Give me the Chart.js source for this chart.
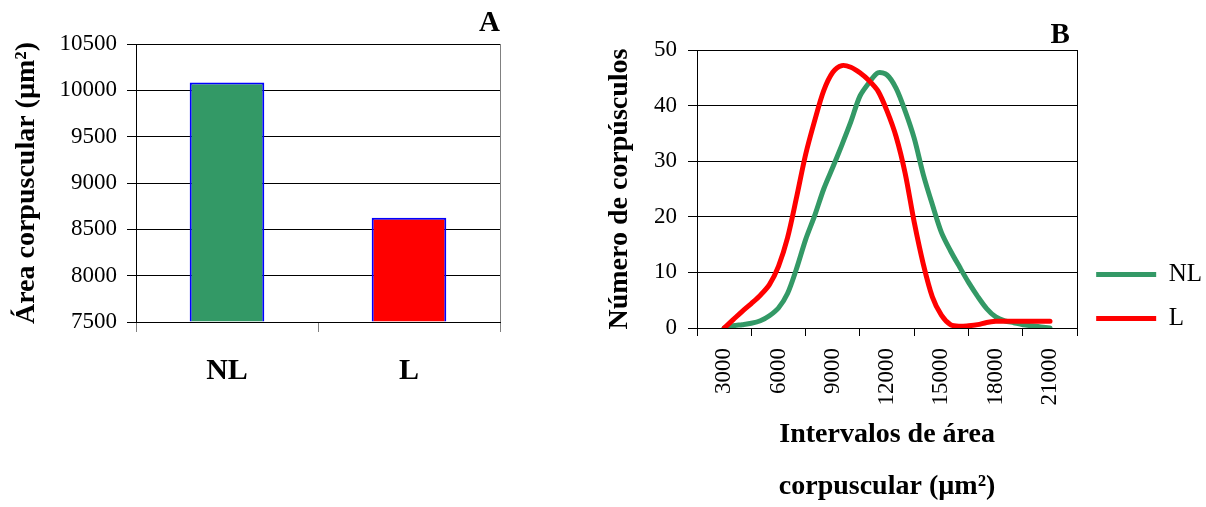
<!DOCTYPE html>
<html>
<head>
<meta charset="utf-8">
<script src="https://cdn.jsdelivr.net/npm/chart.js@4.4.1/dist/chart.umd.min.js"></script>
<style>
  html, body { margin: 0; padding: 0; background: #fff; overflow: hidden; }
  #boxA { position: absolute; left: 0; top: 0; width: 510px; height: 400px; }
  #boxB { position: absolute; left: 590px; top: 0; width: 622px; height: 507px; }
</style>
</head>
<body>
<div id="boxA"><canvas id="chartA"></canvas></div>
<div id="boxB"><canvas id="chartB"></canvas></div>
<script>
// Panel A - mean corpuscle area per group
const groups = ['NL', 'L'];
const meanArea = [10085, 8625];
const areaTicks = [7500, 8000, 8500, 9000, 9500, 10000, 10500];

// Panel B - number of corpuscles per area interval
const intervals = [3000, 3500, 4000, 4500, 5000, 5500, 6000, 6500, 7000, 7500,
  8000, 8500, 9000, 9500, 10000, 10500, 11000, 11500, 12000, 12500,
  13000, 13500, 14000, 14500, 15000, 15500, 16000, 16500, 17000, 17500,
  18000, 18500, 19000, 19500, 20000, 20500, 21000];
const countNL = [0, 0.4, 0.6, 0.85, 1.3, 2.2, 3.6, 6.2, 10.7, 15.9,
  20.2, 25.0, 28.9, 32.9, 37.1, 41.7, 44.1, 45.9, 45.5, 43.1,
  39.0, 34.1, 27.6, 22.2, 17.2, 13.9, 11.0, 8.2, 5.7, 3.5,
  2.0, 1.3, 0.95, 0.6, 0.4, 0.2, 0];
const countL = [0, 1.5, 3.0, 4.4, 5.9, 7.8, 11.1, 16.2, 23.5, 31.2,
  37.3, 42.7, 46.0, 47.2, 46.9, 45.9, 44.5, 42.6, 39.0, 34.4,
  27.8, 19.0, 11.5, 5.6, 2.3, 0.6, 0.3, 0.4, 0.6, 1.0,
  1.2, 1.2, 1.2, 1.2, 1.2, 1.2, 1.2];
const intervalTicks = [3000, 6000, 9000, 12000, 15000, 18000, 21000];
const countTicks = [0, 10, 20, 30, 40, 50];

const GREEN = '#339966';
const RED = '#FF0000';

Chart.defaults.font.family = "'Liberation Serif', 'Times New Roman', serif";
Chart.defaults.color = '#000';

function fixWidth(w) { return axis => { axis.width = w; }; }
function fixHeight(h) { return axis => { axis.height = h; }; }

// moves the legend block down a bit, like in the original figure
const legendShift = {
  id: 'legendShift',
  afterLayout(chart, args, opts) {
    const lg = chart.legend;
    if (lg && opts.dy) { lg.top += opts.dy; lg.bottom += opts.dy; }
  }
};

new Chart(document.getElementById('chartA'), {
  type: 'bar',
  data: {
    labels: groups,
    datasets: [{
      data: meanArea,
      xAxisID: 'x',
      backgroundColor: [GREEN, RED],
      borderColor: '#0000FF',
      borderWidth: 2,
      base: areaTicks[0],
      barPercentage: 0.41,
      categoryPercentage: 1
    }]
  },
  options: {
    responsive: true,
    maintainAspectRatio: false,
    animation: false,
    layout: { padding: { right: 10 } },
    plugins: { legend: { display: false }, tooltip: { enabled: false } },
    scales: {
      x: {
        offset: true,
        grid: {
          offset: true,
          color: c => c.type === 'scale' ? '#808080' : 'transparent',
          tickColor: '#808080',
          tickLength: 10
        },
        border: { color: '#000' },
        ticks: { padding: 21, font: { size: 30, weight: 'bold' } },
        afterFit: fixHeight(78)
      },
      x2: {
        type: 'linear',
        position: 'top',
        grid: { display: false },
        border: { display: false },
        ticks: { display: false },
        title: { display: true, text: 'A', align: 'end', padding: { top: 6, bottom: 0 }, font: { size: 29, weight: 'bold' } },
        afterFit: fixHeight(44)
      },
      y: {
        min: areaTicks[0],
        max: areaTicks[areaTicks.length - 1],
        ticks: { stepSize: areaTicks[1] - areaTicks[0], padding: 10, font: { size: 23 }, callback: v => String(v) },
        grid: { color: '#000', tickLength: 9 },
        border: { color: '#000' },
        title: { display: true, text: 'Área corpuscular (µm²)', padding: { top: 10, bottom: 0 }, font: { size: 28, weight: 'bold' } },
        afterFit: fixWidth(136)
      }
    }
  }
});

const half = (intervalTicks[1] - intervalTicks[0]) / 2;
const xMax = intervalTicks[intervalTicks.length - 1] + half;

new Chart(document.getElementById('chartB'), {
  type: 'line',
  data: {
    datasets: [
      { label: 'NL', data: intervals.map((x, i) => ({ x, y: countNL[i] })), borderColor: GREEN, backgroundColor: GREEN, borderWidth: 5, order: 2, xAxisID: 'x' },
      { label: 'L', data: intervals.map((x, i) => ({ x, y: countL[i] })), borderColor: RED, backgroundColor: RED, borderWidth: 5, order: 1, xAxisID: 'x' }
    ]
  },
  plugins: [legendShift],
  options: {
    responsive: true,
    maintainAspectRatio: false,
    animation: false,
    elements: {
      line: { borderWidth: 5, tension: 0.3, borderCapStyle: 'round', borderJoinStyle: 'round' },
      point: { radius: 0 }
    },
    plugins: {
      tooltip: { enabled: false },
      legend: {
        position: 'right',
        align: 'end',
        fullSize: false,
        labels: {
          usePointStyle: true,
          pointStyle: 'line',
          pointStyleWidth: 60,
          padding: 19,
          color: '#000',
          font: { size: 25 },
          sort: (a, b) => a.datasetIndex - b.datasetIndex
        }
      },
      legendShift: { dy: 22 }
    },
    scales: {
      x: {
        type: 'linear',
        min: intervalTicks[0] - half,
        max: xMax,
        ticks: {
          stepSize: half,
          autoSkip: false,
          minRotation: 90,
          maxRotation: 90,
          padding: 12,
          font: { size: 23 },
          callback: v => intervalTicks.includes(v) ? String(v) : ''
        },
        grid: {
          color: c => (c.tick && c.tick.value === xMax) ? '#000' : 'transparent',
          tickColor: c => (c.tick && Math.round(c.tick.value / half) % 2 === 1) ? '#000' : 'transparent',
          tickLength: 8
        },
        border: { color: '#000' },
        title: {
          display: true,
          text: ['Intervalos de área', 'corpuscular (µm²)'],
          padding: { top: 0, bottom: -6 },
          font: { size: 28, weight: 'bold', lineHeight: '52px' }
        },
        afterFit: fixHeight(179)
      },
      x2: {
        type: 'linear',
        position: 'top',
        grid: { display: false },
        border: { display: false },
        ticks: { display: false },
        title: { display: true, text: 'B ', align: 'end', padding: { top: 18, bottom: 0 }, font: { size: 29, weight: 'bold' } },
        afterFit: fixHeight(50)
      },
      y: {
        min: countTicks[0],
        max: countTicks[countTicks.length - 1],
        ticks: { stepSize: countTicks[1] - countTicks[0], padding: 11, font: { size: 23 } },
        grid: { color: '#000', tickLength: 9 },
        border: { color: '#000' },
        title: { display: true, text: 'Número de corpúsculos', padding: { top: 13, bottom: 0 }, font: { size: 28, weight: 'bold' } },
        afterFit: fixWidth(107)
      }
    }
  }
});
</script>
</body>
</html>
